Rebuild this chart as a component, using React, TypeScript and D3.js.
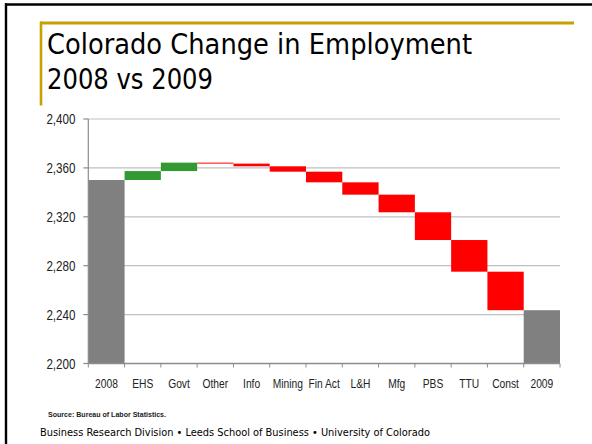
import React from "react";
import * as d3 from "d3";

const categories = ["2008", "EHS", "Govt", "Other", "Info", "Mining", "Fin Act", "L&H", "Mfg", "PBS", "TTU", "Const", "2009"];
const startTotal = 2350.1;
const changes = [7.3, 6.9, -0.8, -2.2, -4.4, -8.7, -10.1, -14.4, -22.7, -25.9, -31.5];
const yTicks = [2200, 2240, 2280, 2320, 2360, 2400];
const titleLines = ["Colorado Change in Employment", "2008 vs 2009"];
const sourceText = "Source: Bureau of Labor Statistics.";
const footerText = "Business Research Division \u2022 Leeds School of Business \u2022 University of Colorado";

const W = 592;
const H = 444;
const plot = { left: 88.3, right: 560, top: 119, bottom: 363.5 };
const GOLD = "#C8A000";
const NARROW = "'Liberation Sans', Arial, sans-serif";

type Bar = { cat: string; y0: number; y1: number; kind: "total" | "up" | "down" };

function buildBars(): Bar[] {
  const bars: Bar[] = [];
  bars.push({ cat: categories[0], y0: d3.min(yTicks)!, y1: startTotal, kind: "total" });
  let level = startTotal;
  changes.forEach((c, i) => {
    const next = level + c;
    bars.push({ cat: categories[i + 1], y0: Math.min(level, next), y1: Math.max(level, next), kind: c >= 0 ? "up" : "down" });
    level = next;
  });
  bars.push({ cat: categories[categories.length - 1], y0: d3.min(yTicks)!, y1: level, kind: "total" });
  return bars;
}

function NarrowText(props: { x: number; y: number; anchor: string; size: number; children: string; fill?: string; weight?: string | number }) {
  return (
    <text
      transform={`translate(${props.x},${props.y}) scale(0.82,1)`}
      textAnchor={props.anchor as any}
      fontFamily={NARROW}
      fontSize={props.size}
      fontWeight={props.weight as any}
      fill={props.fill || "#000"}
    >
      {props.children}
    </text>
  );
}

export default function App() {
  const x = d3.scaleBand<string>().domain(categories).range([plot.left, plot.right]).padding(0);
  const y = d3.scaleLinear().domain([2200, 2400]).range([plot.bottom, plot.top]);
  const bars = buildBars();
  const fmt = d3.format(",");
  const colors: Record<string, string> = { total: "#808080", up: "#339933", down: "#FF0000" };
  const bw = x.bandwidth();

  return (
    <svg width={W} height={H} style={{ position: "absolute", left: 0, top: 0, background: "#fff" }}>
      <rect x={0} y={0} width={W} height={H} fill="#fff" />
      {/* slide border */}
      <line x1={6} y1={3.3} x2={6} y2={H} stroke="#000" strokeWidth={2.4} />
      <line x1={5} y1={4.5} x2={W} y2={4.5} stroke="#000" strokeWidth={2.4} />
      {/* gold accents */}
      <line x1={40} y1={23} x2={574} y2={23} stroke={GOLD} strokeWidth={2.8} />
      <line x1={41} y1={21.6} x2={41} y2={105.5} stroke={GOLD} strokeWidth={2.6} />
      {/* title */}
      <text x={47} y={54} fontFamily="'DejaVu Sans', sans-serif" fontSize={28} textLength={425} lengthAdjust="spacingAndGlyphs" fill="#000">
        {titleLines[0]}
      </text>
      <text x={47} y={89} fontFamily="'DejaVu Sans', sans-serif" fontSize={28} textLength={166} lengthAdjust="spacingAndGlyphs" fill="#000">
        {titleLines[1]}
      </text>

      {/* gridlines */}
      {yTicks.filter((t) => t !== 2200).map((t) => (
        <line key={t} x1={plot.left} x2={plot.right} y1={y(t)} y2={y(t)} stroke="#C0C0C0" strokeWidth={1.2} />
      ))}

      {/* bars */}
      {bars.map((b) => (
        <rect key={b.cat} x={x(b.cat)!} width={bw} y={y(b.y1)} height={Math.max(0.6, y(b.y0) - y(b.y1))} fill={colors[b.kind]} />
      ))}

      {/* y axis */}
      <line x1={plot.left} x2={plot.left} y1={plot.top} y2={plot.bottom} stroke="#8C8C8C" strokeWidth={1.2} />
      {yTicks.map((t) => (
        <g key={t}>
          <line x1={plot.left - 5} x2={plot.left} y1={y(t)} y2={y(t)} stroke="#8C8C8C" strokeWidth={1.2} />
          <NarrowText x={75.5} y={y(t) + 5.3} anchor="end" size={14.2} fill="#222">{fmt(t)}</NarrowText>
        </g>
      ))}

      {/* x axis */}
      <line x1={plot.left} x2={plot.right} y1={plot.bottom} y2={plot.bottom} stroke="#8C8C8C" strokeWidth={1.4} />
      {categories.map((c) => (
        <line key={"t" + c} x1={x(c)!} x2={x(c)!} y1={plot.bottom} y2={plot.bottom + 4} stroke="#8C8C8C" strokeWidth={1} />
      ))}
      <line x1={plot.right} x2={plot.right} y1={plot.bottom} y2={plot.bottom + 4} stroke="#8C8C8C" strokeWidth={1} />
      {categories.map((c) => (
        <NarrowText key={"l" + c} x={x(c)! + bw / 2} y={388} anchor="middle" size={12.5} fill="#222">{c}</NarrowText>
      ))}

      {/* footer */}
      <text x={48} y={417} fontFamily={NARROW} fontSize={6.5} fontWeight={700} textLength={118} lengthAdjust="spacingAndGlyphs" fill="#222">
        {sourceText}
      </text>
      <text x={40} y={436} fontFamily="'DejaVu Sans', sans-serif" fontSize={10.5} textLength={390} lengthAdjust="spacingAndGlyphs" fill="#000">
        {footerText}
      </text>
    </svg>
  );
}
